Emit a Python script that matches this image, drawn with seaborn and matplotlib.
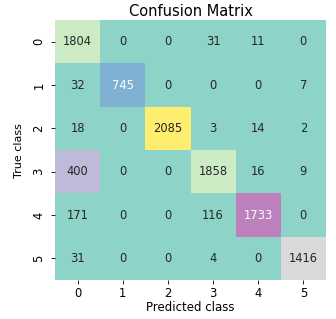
import numpy as np
import pandas as pd
import matplotlib
matplotlib.use("Agg")
import matplotlib.pyplot as plt
import seaborn as sns

# Confusion matrix values (rows = true class, cols = predicted class)
class_labels = ["0", "1", "2", "3", "4", "5"]
row_0 = [1804, 0, 0, 31, 11, 0]
row_1 = [32, 745, 0, 0, 0, 7]
row_2 = [18, 0, 2085, 3, 14, 2]
row_3 = [400, 0, 0, 1858, 16, 9]
row_4 = [171, 0, 0, 116, 1733, 0]
row_5 = [31, 0, 0, 4, 0, 1416]

cm = pd.DataFrame([row_0, row_1, row_2, row_3, row_4, row_5],
                  index=class_labels, columns=class_labels)

fig = plt.figure(figsize=(3.36, 3.19), dpi=100)
ax = fig.add_axes([0.164, 0.122, 0.806, 0.815])

sns.heatmap(cm, annot=True, fmt="d", cmap="Set3", cbar=False, ax=ax,
            annot_kws={"fontsize": 8.3})

ax.set_title("Confusion Matrix", fontsize=10.5, pad=3)
ax.set_xlabel("Predicted class", fontsize=8.5, labelpad=1)
ax.set_ylabel("True class", fontsize=8, labelpad=6)
ax.tick_params(axis="both", labelsize=8.3, length=3, width=0.6)
ax.tick_params(axis="x", pad=2)
ax.tick_params(axis="y", pad=4)
ax.set_yticklabels(class_labels, rotation=90, va="center")
ax.set_xticklabels(class_labels, rotation=0)

fig.savefig("out.png", dpi=100)
